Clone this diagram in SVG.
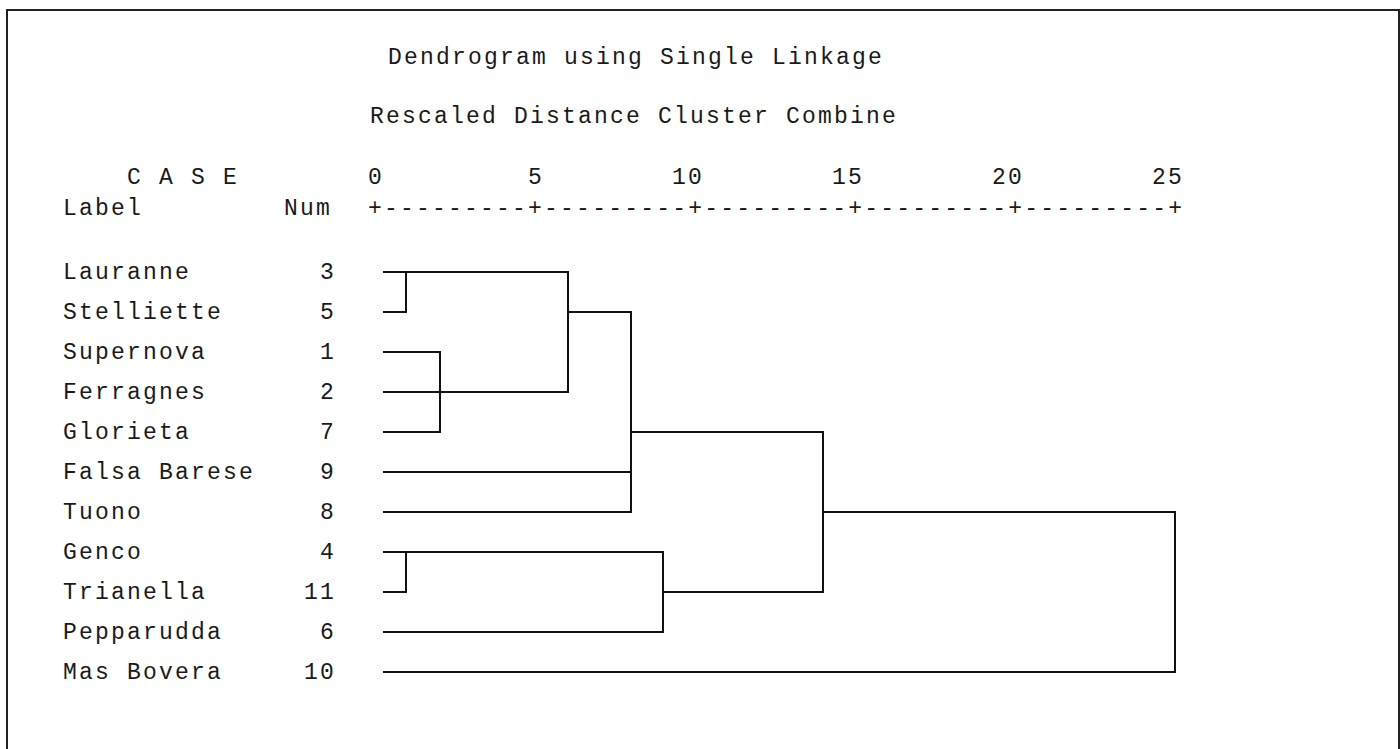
<svg xmlns="http://www.w3.org/2000/svg" width="1400" height="749" viewBox="0 0 1400 749">
<style>
  text { font-family: "Liberation Mono", "DejaVu Sans Mono", monospace; font-size: 23px; letter-spacing: 2.2px; fill: #1a1a1a; }
  .ln { fill: none; stroke: #111; stroke-width: 2; stroke-linecap: square; }
  .frame { fill: #fff; stroke: #222; stroke-width: 2; }
</style>
<rect x="0" y="0" width="1400" height="749" fill="#fff"/>
<rect class="frame" x="7" y="10" width="1392" height="780"/>

<g id="header">
  <text x="388" y="64">Dendrogram using Single Linkage</text>
  <text x="370" y="123">Rescaled Distance Cluster Combine</text>
  <text x="127" y="184">C A S E</text>
  <text x="368.1" y="184">0</text>
  <text x="528.1" y="184">5</text>
  <text x="672.1" y="184">10</text>
  <text x="832.1" y="184">15</text>
  <text x="992.1" y="184">20</text>
  <text x="1152.1" y="184">25</text>
  <text x="63" y="215">Label</text>
  <text x="284" y="215">Num</text>
  <text x="368.1" y="215">+---------+---------+---------+---------+---------+</text>
</g>

<g id="leaf-3"><text x="63" y="279">Lauranne</text><text x="320.1" y="279">3</text></g>
<g id="leaf-5"><text x="63" y="319">Stelliette</text><text x="320.1" y="319">5</text></g>
<g id="leaf-1"><text x="63" y="359">Supernova</text><text x="320.1" y="359">1</text></g>
<g id="leaf-2"><text x="63" y="399">Ferragnes</text><text x="320.1" y="399">2</text></g>
<g id="leaf-7"><text x="63" y="439">Glorieta</text><text x="320.1" y="439">7</text></g>
<g id="leaf-9"><text x="63" y="479">Falsa Barese</text><text x="320.1" y="479">9</text></g>
<g id="leaf-8"><text x="63" y="519">Tuono</text><text x="320.1" y="519">8</text></g>
<g id="leaf-4"><text x="63" y="559">Genco</text><text x="320.1" y="559">4</text></g>
<g id="leaf-11"><text x="63" y="599">Trianella</text><text x="304.1" y="599">11</text></g>
<g id="leaf-6"><text x="63" y="639">Pepparudda</text><text x="320.1" y="639">6</text></g>
<g id="leaf-10"><text x="63" y="679">Mas Bovera</text><text x="304.1" y="679">10</text></g>

<g id="connectors">
  <path class="ln" d="M384 272 H568 M384 312 H406 M406 272 V312"/>
  <path class="ln" d="M384 352 H440 M384 432 H440 M440 352 V432 M384 392 H568"/>
  <path class="ln" d="M568 272 V392 M568 312 H631"/>
  <path class="ln" d="M384 472 H631 M384 512 H631 M631 312 V512 M631 432 H823"/>
  <path class="ln" d="M384 552 H663 M384 592 H406 M406 552 V592 M384 632 H663 M663 552 V632 M663 592 H823"/>
  <path class="ln" d="M823 432 V592 M823 512 H1175 M1175 512 V672 M384 672 H1175"/>
</g>
</svg>
